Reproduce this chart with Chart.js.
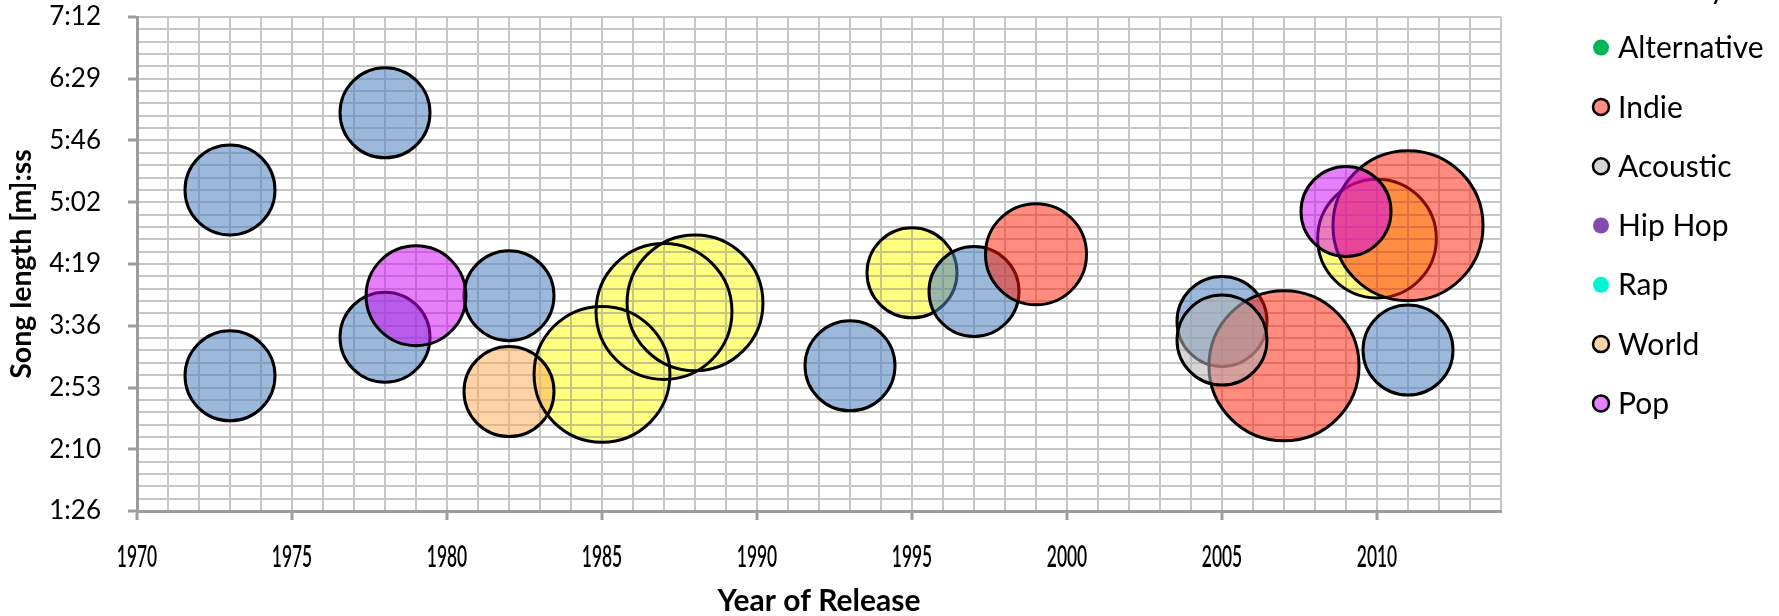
<!DOCTYPE html>
<html>
<head>
<meta charset="utf-8">
<script src="https://cdn.jsdelivr.net/npm/chart.js@4/dist/chart.umd.min.js"></script>
<style>
  html, body { margin: 0; padding: 0; background: #fff; overflow: hidden; }
  #wrap { position: relative; width: 1779px; height: 616px; }
</style>
</head>
<body>
<div id="wrap"><canvas id="chart" width="1779" height="616"></canvas></div>
<script>
// Genres in legend order
const genres = ['Rock', 'Country', 'Alternative', 'Indie', 'Acoustic', 'Hip Hop', 'Rap', 'World', 'Pop'];

// Release year, song length (seconds) and bubble size for each genre
const rockYears     = [1973, 1973, 1978, 1978, 1982, 1993, 1997, 2005, 2011];
const rockLengths   = [311, 181, 365, 208, 237, 188, 240, 219, 199];
const rockSizes     = [100, 100, 100, 100, 100, 100, 100, 100, 100];

const countryYears   = [1985, 1987, 1988, 1995, 2010];
const countryLengths = [182, 226, 232, 253, 277];
const countrySizes   = [228, 228, 228, 100, 174];

const indieYears   = [1999, 2007, 2011];
const indieLengths = [266, 188, 286];
const indieSizes   = [126, 278, 278];

const acousticYears   = [2005];
const acousticLengths = [206];
const acousticSizes   = [100];

const worldYears   = [1982];
const worldLengths = [170];
const worldSizes   = [100];

const popYears   = [1979, 2009];
const popLengths = [237, 296];
const popSizes   = [123, 100];

// Axis tick labels
const yearLabels   = [1970, 1975, 1980, 1985, 1990, 1995, 2000, 2005, 2010];
const lengthTicks  = [86.4, 129.6, 172.8, 216, 259.2, 302.4, 345.6, 388.8, 432];
const YEAR_MIN = 1970, YEAR_MAX = 2014;

// Bubble radius in px for a given size value (area proportional to size)
const BUBBLE_SCALE = 4.5;
function toPoints(xs, ys, sizes) {
  return xs.map((x, i) => ({ x: x, y: ys[i], r: BUBBLE_SCALE * Math.sqrt(sizes[i]) }));
}

function fmtTime(sec) {
  const s = Math.round(sec);
  const m = Math.floor(s / 60);
  const r = s % 60;
  return m + ':' + (r < 10 ? '0' : '') + r;
}
const isMajorLength = v => lengthTicks.some(t => Math.abs(t - v) < 0.01);
const isMajorYear = v => yearLabels.includes(Math.round(v));

const FONT = "Lato, 'Open Sans', 'DejaVu Sans', sans-serif";
const AXIS_GREY = '#9d9d9d';
const GRID_GREY = '#c6c6c6';

function series(label, color, xs, ys, sizes, order, blend) {
  return {
    label: label,
    data: toPoints(xs, ys, sizes),
    backgroundColor: color,
    borderColor: '#000',
    borderWidth: 3,
    order: order,
    blend: blend || null
  };
}

const datasets = [
  series(genres[0], 'rgba(79,129,189,0.56)', rockYears, rockLengths, rockSizes, 4),
  // Country bubbles share one tint where they overlap (darken blend)
  series(genres[1], 'rgb(255,255,128)', countryYears, countryLengths, countrySizes, 5, 'darken'),
  series(genres[2], '#00B457', [], [], [], 7),
  series(genres[3], 'rgba(255,25,0,0.5)', indieYears, indieLengths, indieSizes, 3),
  series(genres[4], 'rgba(180,180,180,0.55)', acousticYears, acousticLengths, acousticSizes, 2),
  series(genres[5], '#834BAF', [], [], [], 8),
  series(genres[6], '#00F5D5', [], [], [], 9),
  series(genres[7], 'rgba(250,170,80,0.5)', worldYears, worldLengths, worldSizes, 6),
  series(genres[8], 'rgba(210,0,245,0.5)', popYears, popLengths, popSizes, 1)
];

// Per-dataset composite mode
const blendPlugin = {
  id: 'datasetBlend',
  beforeDatasetDraw(chart, args) {
    const ds = chart.data.datasets[args.index];
    chart.ctx.save();
    if (ds.blend) chart.ctx.globalCompositeOperation = ds.blend;
  },
  afterDatasetDraw(chart) {
    chart.ctx.restore();
  }
};

// Year labels under the x axis, drawn narrow
const yearLabelPlugin = {
  id: 'yearLabels',
  afterDraw(chart) {
    const sx = chart.scales.x;
    const ctx = chart.ctx;
    ctx.save();
    ctx.font = '600 30px ' + FONT;
    ctx.fillStyle = '#000';
    ctx.textAlign = 'center';
    ctx.textBaseline = 'middle';
    yearLabels.forEach(y => {
      ctx.save();
      ctx.translate(sx.getPixelForValue(y), sx.top + 46);
      ctx.scale(0.58, 1);
      ctx.fillText(String(y), 0, 0);
      ctx.restore();
    });
    ctx.restore();
  }
};

// Legend column on the right; its first rows run past the top edge
const legendPlugin = {
  id: 'sideLegend',
  afterDraw(chart) {
    const ctx = chart.ctx;
    const markerX = chart.chartArea.right + 100;
    const firstRowY = -71;
    const rowGap = 59.3;
    ctx.save();
    ctx.font = '30px ' + FONT;
    ctx.textAlign = 'left';
    ctx.textBaseline = 'middle';
    chart.data.datasets.forEach((ds, i) => {
      const y = firstRowY + i * rowGap;
      ctx.beginPath();
      ctx.arc(markerX, y, 8, 0, Math.PI * 2);
      ctx.fillStyle = '#fff';
      ctx.fill();
      ctx.fillStyle = ds.backgroundColor;
      ctx.fill();
      if (ds.data.length) {
        ctx.lineWidth = 2.5;
        ctx.strokeStyle = '#000';
        ctx.stroke();
      }
      ctx.fillStyle = '#000';
      ctx.fillText(ds.label, markerX + 17, y + 1);
    });
    ctx.restore();
  }
};

new Chart(document.getElementById('chart'), {
  type: 'bubble',
  data: { datasets: datasets },
  plugins: [blendPlugin, yearLabelPlugin, legendPlugin],
  options: {
    responsive: false,
    animation: false,
    events: [],
    layout: { autoPadding: false, padding: { left: 0, right: 278, top: 17, bottom: 0 } },
    plugins: {
      legend: { display: false },
      tooltip: { enabled: false }
    },
    scales: {
      x: {
        type: 'linear',
        min: YEAR_MIN,
        max: YEAR_MAX,
        afterFit: s => { s.height = 105; s.paddingLeft = 0; s.paddingRight = 0; },
        ticks: {
          display: false,
          stepSize: 1,
          maxTicksLimit: 1000,
          autoSkip: false
        },
        grid: {
          color: GRID_GREY,
          lineWidth: 2,
          drawTicks: true,
          tickLength: 9,
          tickWidth: 3,
          tickColor: c => (c.tick && isMajorYear(c.tick.value) && (Math.round(c.tick.value) - YEAR_MIN) % 5 === 0) ? AXIS_GREY : 'rgba(0,0,0,0)'
        },
        border: { color: AXIS_GREY, width: 3 },
        title: {
          display: true,
          text: 'Year of Release',
          color: '#000',
          font: { family: FONT, size: 30, weight: 'bold', lineHeight: 1 },
          padding: { top: 0, bottom: 0 }
        }
      },
      y: {
        type: 'linear',
        min: lengthTicks[0],
        max: lengthTicks[lengthTicks.length - 1],
        afterFit: s => { s.width = 137; s.paddingTop = 0; s.paddingBottom = 0; },
        ticks: {
          stepSize: (lengthTicks[1] - lengthTicks[0]) / 5,
          maxTicksLimit: 1000,
          autoSkip: false,
          padding: 27,
          color: '#000',
          font: { family: FONT, size: 26 },
          callback: v => isMajorLength(v) ? fmtTime(v) : ''
        },
        grid: {
          color: GRID_GREY,
          lineWidth: 2,
          drawTicks: true,
          tickLength: 9,
          tickWidth: 3,
          tickColor: c => (c.tick && isMajorLength(c.tick.value)) ? AXIS_GREY : 'rgba(0,0,0,0)'
        },
        border: { color: AXIS_GREY, width: 3 },
        title: {
          display: true,
          text: 'Song length [m]:ss',
          color: '#000',
          font: { family: FONT, size: 28.5, weight: 'bold', lineHeight: 1 },
          padding: { top: 8, bottom: 0 }
        }
      }
    }
  }
});
</script>
</body>
</html>
